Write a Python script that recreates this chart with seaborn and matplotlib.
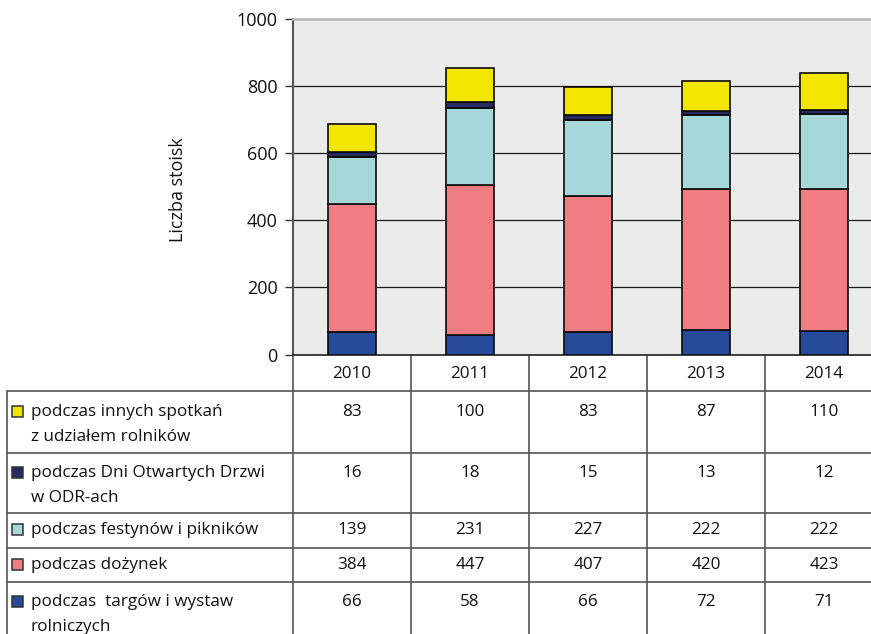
import matplotlib
matplotlib.use("Agg")
import matplotlib.pyplot as plt
import seaborn as sns
import numpy as np
from matplotlib.patches import Rectangle

# ---- data ----
years = ["2010", "2011", "2012", "2013", "2014"]
targi = [66, 58, 66, 72, 71]
dozynki = [384, 447, 407, 420, 423]
festyny = [139, 231, 227, 222, 222]
dni_otwarte = [16, 18, 15, 13, 12]
inne = [83, 100, 83, 87, 110]
yticks = [0, 200, 400, 600, 800, 1000]
ylabel = "Liczba stoisk"

# stacking order bottom -> top
stack_series = [targi, dozynki, festyny, dni_otwarte, inne]
stack_colors = ["#274A9A", "#F07D82", "#A6D8DA", "#272B62", "#F2E600"]

# table order top -> bottom
table_labels = [
    "podczas innych spotkań\nz udziałem rolników",
    "podczas Dni Otwartych Drzwi\nw ODR-ach",
    "podczas festynów i pikników",
    "podczas dożynek",
    "podczas  targów i wystaw\nrolniczych",
]
table_values = [inne, dni_otwarte, festyny, dozynki, targi]
table_colors = ["#F2E600", "#272B62", "#A6D8DA", "#F07D82", "#274A9A"]

# ---- style ----
sns.set_style("white")
plt.rcParams["font.family"] = ["Open Sans", "DejaVu Sans"]
FS = 12.3
FS_AX = 13
TXT = "#111111"

W, H = 871, 634
fig = plt.figure(figsize=(W / 100, H / 100), dpi=100)

# table/background axes in pixel coordinates
tab = fig.add_axes([0, 0, 1, 1])
tab.set_xlim(0, W)
tab.set_ylim(H, 0)
tab.axis("off")

ax_left, ax_right, ax_top, ax_bottom = 293, 871, 19, 354.5
ax = fig.add_axes([ax_left / W, 1 - ax_bottom / H,
                   (ax_right - ax_left) / W, (ax_bottom - ax_top) / H])
ax.set_facecolor("#EBEBEB")

bottom = np.zeros(len(years))
for vals, col in zip(stack_series, stack_colors):
    sns.barplot(x=years, y=vals, bottom=bottom, color=col, saturation=1,
                width=0.4, edgecolor="#0a0a0a", linewidth=1.2,
                errorbar=None, ax=ax, zorder=3)
    bottom = bottom + np.array(vals)

col_w = 118.0
ax.set_xlim(-0.5, -0.5 + (ax_right - ax_left) / col_w)
ax.set_ylim(0, 1000)
ax.set_yticks(yticks)
ax.set_yticklabels([str(t) for t in yticks], fontsize=FS_AX, color=TXT)
ax.tick_params(axis="y", length=6, width=1, color="#333333", pad=5, left=True)
ax.tick_params(axis="x", length=0, pad=8, labelsize=FS, labelcolor=TXT)
ax.set_xlabel("")
ax.yaxis.grid(True, color="#1a1a1a", linewidth=0.9)
ax.xaxis.grid(False)
ax.set_axisbelow(True)
ax.set_ylabel(ylabel, fontsize=FS_AX, color=TXT)
ax.yaxis.set_label_coords((178 - ax_left) / (ax_right - ax_left),
                          (ax_bottom - 190) / (ax_bottom - ax_top))
ax.yaxis.label.set_va("center")

ax.spines["right"].set_visible(False)
ax.spines["top"].set_color("#BBBBBB")
ax.spines["top"].set_linewidth(2)
ax.spines["left"].set_color("#555555")
ax.spines["left"].set_linewidth(1.5)
ax.spines["bottom"].set_color("#222222")
ax.spines["bottom"].set_linewidth(1.2)

# ---- data table ----
lc = "#555555"
lw = 1.2
row_lines = [391, 452.5, 513, 547.5, 581.7]
first_line_y = [411.5, 473, 530, 564.6, 601.7]
line_gap = 25.5
col_edges = [ax_left + col_w * k for k in range(len(years))]
col_centers = [ax_left + col_w * (k + 0.5) for k in range(len(years))]

for y in row_lines:
    tab.plot([7, W], [y, y], color=lc, lw=lw)
for x in col_edges:
    tab.plot([x, x], [ax_bottom, H], color=lc, lw=lw)
tab.plot([7, 7], [row_lines[0], H], color=lc, lw=lw)

for r, (lab, vals, colr) in enumerate(zip(table_labels, table_values, table_colors)):
    y0 = first_line_y[r]
    tab.add_patch(Rectangle((11.5, y0 - 6), 11, 11, facecolor=colr,
                            edgecolor="#333333", lw=1.1))
    for i, line in enumerate(lab.split("\n")):
        tab.text(30.5, y0 + i * line_gap, line, fontsize=FS, color=TXT,
                 ha="left", va="center")
    for c, v in enumerate(vals):
        tab.text(col_centers[c], y0, str(v), fontsize=FS, color=TXT,
                 ha="center", va="center")

fig.savefig("out.png", dpi=100)
